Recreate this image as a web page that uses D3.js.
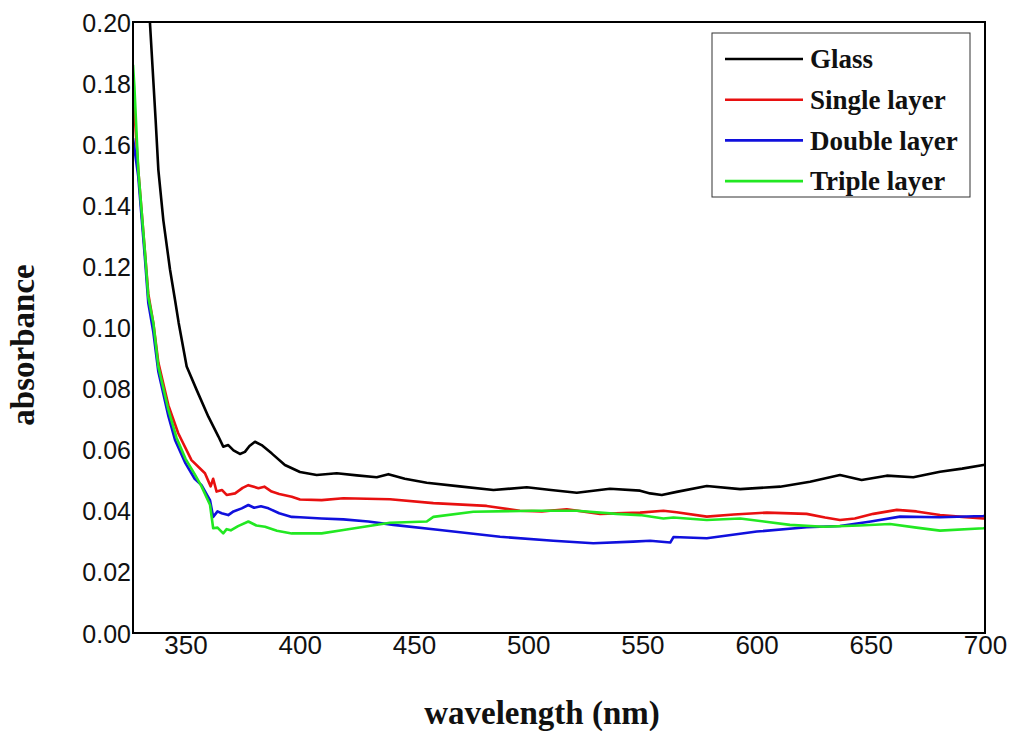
<!DOCTYPE html>
<html>
<head>
<meta charset="utf-8">
<script src="https://cdn.jsdelivr.net/npm/d3@7"></script>
<style>
  body { margin: 0; background: #fff; }
  .tick-label { font-family: "Liberation Sans", Arial, sans-serif; fill: #111; }
  .axis-title { font-family: "Liberation Serif", "Times New Roman", serif; font-weight: bold; font-size: 33px; fill: #111; }
  .legend-text { font-family: "Liberation Serif", "Times New Roman", serif; font-weight: bold; font-size: 27px; fill: #111; }
</style>
</head>
<body>
<svg id="chart" width="1012" height="731"></svg>
<script>
// tick labels
const xTicks = [350, 400, 450, 500, 550, 600, 650, 700];
const yTicks = [0, 0.02, 0.04, 0.06, 0.08, 0.10, 0.12, 0.14, 0.16, 0.18, 0.20];

const seriesNames = ['Glass', 'Single layer', 'Double layer', 'Triple layer'];
const seriesColors = ['#000000', '#e81010', '#1010dd', '#22e822'];

// [wavelength nm, absorbance]
const glass = [
  [333.8, 0.21], [334.4, 0.2], [336.9, 0.168], [338.1, 0.1516], [340.3, 0.135],
  [343.2, 0.119], [345.4, 0.109], [347, 0.1015], [350.5, 0.0872], [354.9, 0.0795],
  [360, 0.0708], [364.4, 0.0643], [366.5, 0.061], [368.7, 0.0615], [371, 0.0598],
  [373.8, 0.0586], [376, 0.0593], [378, 0.0612], [380.4, 0.0626], [383.3, 0.0615],
  [387.7, 0.0588], [393.5, 0.055], [400.1, 0.0527], [407.4, 0.0517], [416.2, 0.0523],
  [425, 0.0516], [433.7, 0.051], [438.8, 0.052], [446, 0.0505], [455.6, 0.0492],
  [470, 0.048], [484.8, 0.0468], [499.4, 0.0477], [510, 0.0468], [521.3, 0.0459],
  [535.8, 0.0472], [549, 0.0466], [553.4, 0.0457], [558.5, 0.0452], [565, 0.0462],
  [578.2, 0.0481], [592.8, 0.0471], [610.3, 0.0479], [623.4, 0.0495], [636.5, 0.0517],
  [646, 0.0501], [657, 0.0515], [668.6, 0.051], [680.3, 0.0528], [690, 0.0538],
  [699.3, 0.055], [700, 0.0551]
];
const single = [
  [327, 0.178], [329.3, 0.1516], [332.3, 0.124], [333.7, 0.111], [335.9, 0.1015],
  [338.1, 0.0885], [342.5, 0.0745], [346.8, 0.0654], [352.6, 0.0566], [358.5, 0.0523],
  [361, 0.048], [362.1, 0.0505], [363.6, 0.0463], [366, 0.0468], [368, 0.0452],
  [371.7, 0.0457], [375, 0.0475], [377.5, 0.0484], [381.9, 0.0474], [384.5, 0.0479],
  [387.7, 0.0463], [391, 0.0455], [396.5, 0.0446], [400.1, 0.0437], [409.6, 0.0435],
  [419.1, 0.0441], [439.5, 0.0438], [458.5, 0.0425], [481.8, 0.0416], [496.4, 0.04],
  [506, 0.0398], [516.9, 0.0405], [531.5, 0.039], [549, 0.0394], [559.2, 0.04],
  [565, 0.0395], [578.2, 0.0381], [590, 0.0388], [604.5, 0.0394], [621.9, 0.039],
  [630, 0.0378], [636.5, 0.037], [643, 0.0375], [651.1, 0.039], [661.4, 0.0403],
  [670, 0.0398], [680.3, 0.0386], [690, 0.038], [699.3, 0.0375], [700, 0.0376]
];
const double = [
  [327, 0.162], [329.3, 0.1495], [332.3, 0.122], [333.7, 0.108], [335.9, 0.0985],
  [338.1, 0.0855], [342.5, 0.071], [345.4, 0.0632], [350, 0.0555], [354, 0.0505],
  [357, 0.0484], [360.7, 0.0435], [362.1, 0.038], [364, 0.0398], [365.8, 0.0392],
  [368.7, 0.0386], [371, 0.0398], [374.6, 0.0408], [377.5, 0.0419], [380, 0.041],
  [383, 0.0415], [386.3, 0.0408], [391, 0.0392], [396.5, 0.038], [400.1, 0.0379],
  [409.6, 0.0375], [419.1, 0.0372], [430, 0.0365], [441, 0.0354], [461.4, 0.0337],
  [487.7, 0.0315], [511, 0.0302], [528.5, 0.0294], [546, 0.0299], [553.4, 0.0302],
  [562.2, 0.0296], [563.6, 0.0314], [578.2, 0.031], [600.1, 0.0332], [621.9, 0.0346],
  [636.5, 0.035], [650, 0.0365], [662.8, 0.0381], [680.3, 0.0379], [699.3, 0.0383],
  [700, 0.0384]
];
const triple = [
  [327, 0.186], [327.6, 0.179], [329.3, 0.1516], [332.3, 0.124], [333.7, 0.11],
  [335.9, 0.1015], [338.1, 0.0872], [342.5, 0.073], [346, 0.064], [350, 0.057],
  [354, 0.052], [357, 0.048], [360.7, 0.042], [362.1, 0.0343], [364, 0.0345],
  [366.5, 0.0326], [368, 0.034], [369.8, 0.0336], [373, 0.035], [377.5, 0.0365],
  [381, 0.0352], [384.8, 0.0348], [390, 0.0335], [396.5, 0.0326], [409.6, 0.0326],
  [419.1, 0.0337], [439.5, 0.0361], [455.6, 0.0365], [458.5, 0.038], [476, 0.0397],
  [502.3, 0.04], [521.3, 0.04], [538.7, 0.039], [549, 0.0386], [559.2, 0.0375],
  [563.6, 0.0378], [578.2, 0.037], [592.8, 0.0375], [614.6, 0.0354], [629.2, 0.0348],
  [645, 0.0352], [658.4, 0.0357], [670, 0.0345], [680.3, 0.0335], [699.3, 0.0343],
  [700, 0.0344]
];

const seriesData = [glass, single, double, triple];

const margin = { top: 22, right: 27, bottom: 98, left: 133 };
const width = 1012, height = 731;

const svg = d3.select('#chart');

const x = d3.scaleLinear()
  .domain([327, 700])
  .range([margin.left, width - margin.right]);

const y = d3.scaleLinear()
  .domain([0, 0.2])
  .range([height - margin.bottom, margin.top]);

svg.append('defs').append('clipPath')
  .attr('id', 'plot-clip')
  .append('rect')
  .attr('x', margin.left)
  .attr('y', margin.top)
  .attr('width', width - margin.left - margin.right)
  .attr('height', height - margin.top - margin.bottom);

// axes: labels only, no tick marks
let xAxis = (g) =>
  g.attr('transform', `translate(0,${height - margin.bottom})`)
    .call(d3.axisBottom(x).tickValues(xTicks).tickSize(0).tickPadding(3).tickFormat(d3.format('d')))
    .call((g) => g.select('.domain').remove());

let yAxis = (g) =>
  g.attr('transform', `translate(${margin.left},0)`)
    .call(d3.axisLeft(y).tickValues(yTicks).tickSize(0).tickPadding(2).tickFormat(d3.format('.2f')))
    .call((g) => g.select('.domain').remove());

svg.append('g').call(xAxis)
  .selectAll('text').attr('class', 'tick-label')
  .attr('font-family', null).attr('font-size', '26px');
svg.append('g').call(yAxis)
  .selectAll('text').attr('class', 'tick-label')
  .attr('font-family', null).attr('font-size', '25px')
  .attr('dy', '0.36em');

var line = d3.line()
  .x((d) => x(d[0]))
  .y((d) => y(d[1]));

svg.append('g')
  .attr('clip-path', 'url(#plot-clip)')
  .selectAll('path')
  .data(seriesData)
  .enter()
  .append('path')
  .attr('fill', 'none')
  .attr('stroke', (d, i) => seriesColors[i])
  .attr('stroke-width', 2.6)
  .attr('stroke-linejoin', 'round')
  .attr('d', line);

// frame
svg.append('rect')
  .attr('x', margin.left)
  .attr('y', margin.top)
  .attr('width', width - margin.left - margin.right)
  .attr('height', height - margin.top - margin.bottom)
  .attr('fill', 'none')
  .attr('stroke', '#000')
  .attr('stroke-width', 2);

// legend
const legend = svg.append('g').attr('transform', 'translate(712,33)');
legend.append('rect')
  .attr('width', 258)
  .attr('height', 164)
  .attr('fill', '#fff')
  .attr('stroke', '#333')
  .attr('stroke-width', 1);

seriesNames.forEach((name, i) => {
  let row = legend.append('g').attr('transform', `translate(0,${26 + i * 40.7})`);
  row.append('line')
    .attr('x1', 13).attr('x2', 91)
    .attr('stroke', seriesColors[i])
    .attr('stroke-width', 2.6);
  row.append('text')
    .attr('class', 'legend-text')
    .attr('x', 98)
    .attr('dy', '0.34em')
    .text(name);
});

// axis titles
svg.append('text')
  .attr('class', 'axis-title')
  .attr('x', 542)
  .attr('y', 724)
  .attr('text-anchor', 'middle')
  .text('wavelength (nm)');

svg.append('text')
  .attr('class', 'axis-title')
  .attr('transform', 'translate(34,345) rotate(-90)')
  .attr('text-anchor', 'middle')
  .text('absorbance');
</script>
</body>
</html>
